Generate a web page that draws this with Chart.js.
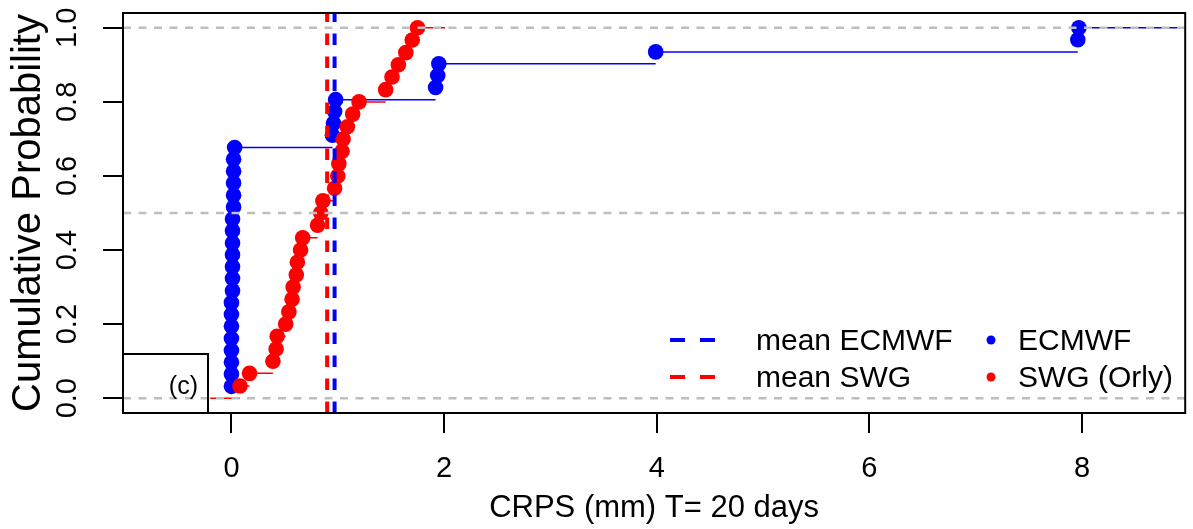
<!DOCTYPE html>
<html>
<head>
<meta charset="utf-8">
<script src="https://cdn.jsdelivr.net/npm/chart.js@4.4.1/dist/chart.umd.min.js"></script>
<style>
  html, body { margin: 0; padding: 0; background: #fff; }
</style>
</head>
<body>
<canvas id="crps" width="1193" height="529"></canvas>
<script>
/* ECDF of CRPS, ECMWF vs SWG (Orly), T = 20 days.
   values, sorted ascending */
const ecmwfCrps = [0.00, 0.00, 0.00, 0.00, 0.00, 0.00, 0.00, 0.00, 0.01, 0.01, 0.01,
  0.01, 0.01, 0.01, 0.01, 0.02, 0.02, 0.02, 0.02, 0.02, 0.03,
  0.95, 0.96, 0.97, 0.98, 1.92, 1.94, 1.95, 3.99, 7.96, 7.97];
const ecmwfProb = [0.032, 0.065, 0.097, 0.129, 0.161, 0.194, 0.226, 0.258, 0.290, 0.323, 0.355,
  0.387, 0.419, 0.452, 0.484, 0.516, 0.548, 0.581, 0.613, 0.645, 0.677,
  0.710, 0.742, 0.774, 0.806, 0.839, 0.871, 0.903, 0.935, 0.968, 1.000];

const swgCrps = [0.08, 0.17, 0.39, 0.42, 0.43, 0.51, 0.54, 0.57, 0.58, 0.61, 0.62, 0.65, 0.67,
  0.81, 0.84, 0.86, 0.97, 1.00, 1.01, 1.04, 1.05, 1.09, 1.14, 1.20,
  1.45, 1.51, 1.57, 1.64, 1.70, 1.75];
const swgProb = [0.033, 0.067, 0.100, 0.133, 0.167, 0.200, 0.233, 0.267, 0.300, 0.333, 0.367, 0.400, 0.433,
  0.467, 0.500, 0.533, 0.567, 0.600, 0.633, 0.667, 0.700, 0.733, 0.767, 0.800,
  0.833, 0.867, 0.900, 0.933, 0.967, 1.000];

const meanEcmwf = 0.97;
const meanSwg = 0.90;
const refLevels = [0, 0.5, 1];

const xTicks = [0, 2, 4, 6, 8];
const yTicks = [0, 0.2, 0.4, 0.6, 0.8, 1.0];
const xRange = [-1.02, 8.97];
const yRange = [-0.04, 1.04];

// where the horizontal ecdf lines begin / stop
const swgLimits = [-0.2, 2.01];
const ecmwfLimits = [0.0, 8.97];

const BLUE = '#0000FF';
const RED = '#FF0000';
const GREY = '#BEBEBE';
const FONT = '"Liberation Sans", Arial, sans-serif';

// horizontal ecdf segments only (no verticals), broken with nulls
function ecdfSteps(xs, ps, lim) {
  const pts = [{x: lim[0], y: 0}, {x: xs[0], y: 0}, {x: xs[0], y: null}];
  for (let i = 0; i < xs.length; i++) {
    const next = i + 1 < xs.length ? xs[i + 1] : lim[1];
    pts.push({x: xs[i], y: ps[i]}, {x: next, y: ps[i]}, {x: next, y: null});
  }
  return pts;
}

const hLines = [];
refLevels.forEach(v => {
  hLines.push({x: xRange[0], y: v}, {x: xRange[1], y: v}, {x: xRange[1], y: null});
});

const frame = {
  id: 'frame',
  afterDraw(chart) {
    const {ctx, chartArea: a} = chart;
    ctx.save();
    ctx.strokeStyle = '#000';
    ctx.lineWidth = 2;
    ctx.strokeRect(a.left, a.top, a.right - a.left, a.bottom - a.top);
    // panel tag box
    ctx.strokeRect(a.left, 354, 208 - a.left, a.bottom - 354);
    ctx.fillStyle = '#000';
    ctx.font = '25px ' + FONT;
    ctx.textAlign = 'right';
    ctx.textBaseline = 'alphabetic';
    ctx.fillText('(c)', 198, 394);
    ctx.restore();
  }
};

const legendLines = ['mean ECMWF', 'mean SWG'];
const legendDots = ['ECMWF', 'SWG (Orly)'];
const legendColors = [BLUE, RED];

const legendBox = {
  id: 'legendBox',
  afterDraw(chart) {
    const ctx = chart.ctx;
    const rows = [340, 377];
    ctx.save();
    ctx.font = '30px ' + FONT;
    ctx.textBaseline = 'alphabetic';
    ctx.textAlign = 'left';
    rows.forEach((y, i) => {
      ctx.strokeStyle = legendColors[i];
      ctx.lineWidth = 4;
      ctx.setLineDash([15, 15]);
      ctx.beginPath();
      ctx.moveTo(670, y);
      ctx.lineTo(717, y);
      ctx.stroke();
      ctx.setLineDash([]);
      ctx.fillStyle = '#000';
      ctx.fillText(legendLines[i], 756, y + 10);
      ctx.fillStyle = legendColors[i];
      ctx.beginPath();
      ctx.arc(991, y, 4.5, 0, Math.PI * 2);
      ctx.fill();
      ctx.fillStyle = '#000';
      ctx.fillText(legendDots[i], 1018, y + 10);
    });
    ctx.restore();
  }
};

const ctx = document.getElementById('crps').getContext('2d');
const chart = new Chart(ctx, {
  type: 'line',
  data: {
    datasets: [
      {
        label: 'ref',
        data: hLines,
        borderColor: GREY,
        borderWidth: 2.5,
        borderDash: [8, 7.5],
        pointRadius: 0,
        spanGaps: false
      },
      {
        label: 'mean SWG',
        data: [{x: meanSwg, y: yRange[0]}, {x: meanSwg, y: yRange[1]}],
        borderColor: RED,
        borderWidth: 4,
        borderDash: [11.5, 11.5],
        pointRadius: 0
      },
      {
        label: 'mean ECMWF',
        data: [{x: meanEcmwf, y: yRange[0]}, {x: meanEcmwf, y: yRange[1]}],
        borderColor: BLUE,
        borderWidth: 4,
        borderDash: [11.5, 11.5],
        pointRadius: 0
      },
      {
        label: 'SWG (Orly)',
        data: swgCrps.map((v, i) => ({x: v, y: swgProb[i]})),
        showLine: false,
        pointRadius: 7.8,
        pointBorderWidth: 0,
        pointBackgroundColor: RED,
        borderColor: RED
      },
      {
        label: 'SWG steps',
        data: ecdfSteps(swgCrps, swgProb, swgLimits),
        borderColor: RED,
        borderWidth: 1.5,
        pointRadius: 0,
        spanGaps: false
      },
      {
        label: 'ECMWF',
        data: ecmwfCrps.map((v, i) => ({x: v, y: ecmwfProb[i]})),
        showLine: false,
        pointRadius: 7.8,
        pointBorderWidth: 0,
        pointBackgroundColor: BLUE,
        borderColor: BLUE
      },
      {
        label: 'ECMWF steps',
        data: ecdfSteps(ecmwfCrps, ecmwfProb, ecmwfLimits).slice(3),
        borderColor: BLUE,
        borderWidth: 1.5,
        pointRadius: 0,
        spanGaps: false
      }
    ]
  },
  options: {
    responsive: false,
    animation: false,
    devicePixelRatio: 1,
    layout: { padding: { top: 13, right: 3, left: 0, bottom: 0 } },
    plugins: {
      legend: { display: false },
      tooltip: { enabled: false }
    },
    scales: {
      x: {
        type: 'linear',
        min: xRange[0],
        max: xRange[1],
        afterBuildTicks: s => { s.ticks = xTicks.map(v => ({value: v})); },
        afterFit: s => { s.height = 116; s.paddingLeft = 0; s.paddingRight = 0; },
        grid: { drawOnChartArea: false, drawTicks: true, tickLength: 20, color: '#000', lineWidth: 2 },
        border: { display: false },
        ticks: {
          color: '#000',
          font: { family: FONT, size: 29 },
          padding: 19,
          maxRotation: 0,
          minRotation: 0,
          autoSkip: false,
          callback: v => String(v)
        },
        title: {
          display: true,
          text: 'CRPS (mm) T= 20 days',
          color: '#000',
          font: { family: FONT, size: 31 },
          padding: { top: 0, bottom: 2 }
        }
      },
      y: {
        type: 'linear',
        min: yRange[0],
        max: yRange[1],
        afterBuildTicks: s => { s.ticks = yTicks.map(v => ({value: v})); },
        afterFit: s => { s.width = 123; s.paddingTop = 0; s.paddingBottom = 0; },
        grid: { drawOnChartArea: false, drawTicks: true, tickLength: 20, color: '#000', lineWidth: 2 },
        border: { display: false },
        ticks: {
          color: '#000',
          font: { family: FONT, size: 29 },
          padding: 15,
          minRotation: 90,
          maxRotation: 90,
          crossAlign: 'center',
          autoSkip: false,
          callback: v => v.toFixed(1)
        },
        title: {
          display: true,
          text: 'Cumulative Probability',
          color: '#000',
          font: { family: FONT, size: 40 },
          padding: { top: 5, bottom: 0 }
        }
      }
    }
  },
  plugins: [frame, legendBox]
});
</script>
</body>
</html>
